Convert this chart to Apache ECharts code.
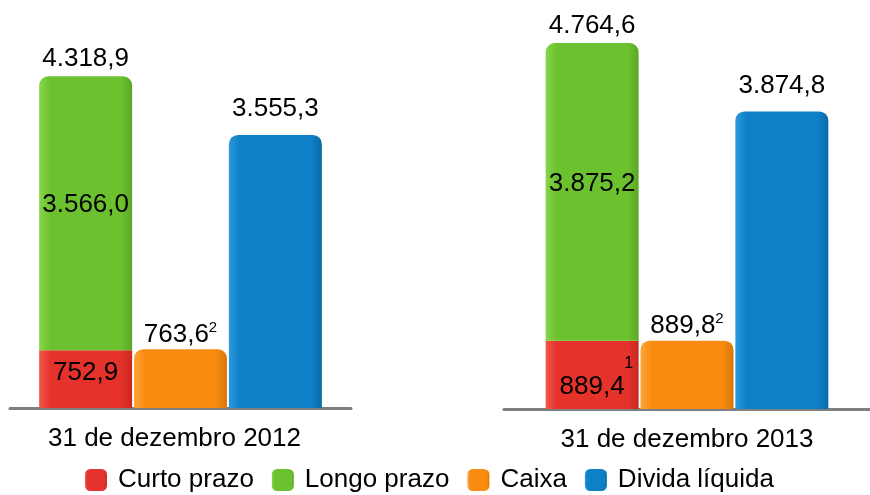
<!DOCTYPE html>
<html>
<head>
<meta charset="utf-8">
<script src="https://cdn.jsdelivr.net/npm/echarts@6/dist/echarts.min.js"></script>
<style>
  html, body { margin: 0; padding: 0; background: #fff; }
  #divChart { width: 870px; height: 495px; }
</style>
</head>
<body>
<div id="divChart"></div>
<script>
// dados (R$ milhões)
var periods = ['31 de dezembro 2012', '31 de dezembro 2013'];
var curtoPrazo = [752.9, 889.4];
var longoPrazo = [3566.0, 3875.2];
var caixa = [763.6, 889.8];
var dividaLiquida = [3555.3, 3874.8];
var curtoNotes = ['', '1'];
var caixaNotes = ['2', '2'];
var legendNames = ['Curto prazo', 'Longo prazo', 'Caixa', 'Divida líquida'];

var colors = {
  curto: ['#f0574e', '#e5322a', '#c82820'],
  longo: ['#86d64a', '#6cc12f', '#5aa826'],
  caixa: ['#ffa53a', '#f98c10', '#d97608'],
  divida: ['#2c98dc', '#0e80c8', '#0a6aa8']
};

var divChart = null;

/**
 * extend simples (sem jQuery)
 */
function extend(a) {
  for (var k = 1; k < arguments.length; k++) {
    var b = arguments[k];
    for (var p in b) { if (b.hasOwnProperty(p)) a[p] = b[p]; }
  }
  return a;
}

/**
 * formata numero no padrão pt-BR, ex: 4318.9 -> 4.318,9
 */
function fmt(v) {
  var parts = v.toFixed(1).split('.');
  return parts[0].replace(/\B(?=(\d{3})+(?!\d))/g, '.') + ',' + parts[1];
}

function grad(c) {
  return new echarts.graphic.LinearGradient(0, 0, 1, 0, [
    { offset: 0, color: c[0] },
    { offset: 0.12, color: c[1] },
    { offset: 0.88, color: c[1] },
    { offset: 1, color: c[2] }
  ]);
}

var fontFamily = 'Liberation Sans, Arial';
var rich = {
  v: { fontSize: 26, lineHeight: 28, fontFamily: fontFamily, color: '#000' },
  s: { fontSize: 15, lineHeight: 14, verticalAlign: 'top', fontFamily: fontFamily, color: '#000' },
  n: { fontSize: 16, lineHeight: 18, width: 82, align: 'right', fontFamily: fontFamily, color: '#000' }
};

/**
 * monta as séries de um painel (gridIndex i)
 */
function makeSeries(i) {
  var base = { type: 'bar', xAxisIndex: i, yAxisIndex: i, barWidth: 93, barGap: '2%' };
  var list = [];
  list.push(extend({}, base, {
    name: 'Curto prazo', stack: 'd' + i,
    data: [curtoPrazo[i]],
    itemStyle: { color: grad(colors.curto) },
    label: {
      show: true, position: 'inside', rich: rich,
      offset: curtoNotes[i] ? [0, 3] : [0, -6],
      formatter: function () {
        return curtoNotes[i] ? '{n|' + curtoNotes[i] + '}\n{v|' + fmt(curtoPrazo[i]) + '}' : '{v|' + fmt(curtoPrazo[i]) + '}';
      }
    }
  }));
  list.push(extend({}, base, {
    name: 'Longo prazo', stack: 'd' + i,
    data: [longoPrazo[i]],
    itemStyle: { color: grad(colors.longo), borderRadius: [9, 9, 0, 0] },
    label: {
      show: true, position: 'inside', offset: [0, -8], rich: rich,
      formatter: function () { return '{v|' + fmt(longoPrazo[i]) + '}'; }
    }
  }));
  list.push(extend({}, base, {
    name: 'Total', stack: 'd' + i,
    data: [0],
    itemStyle: { color: 'transparent' },
    label: {
      show: true, position: 'top', distance: 3, rich: rich,
      formatter: function () { return '{v|' + fmt(curtoPrazo[i] + longoPrazo[i]) + '}'; }
    }
  }));
  list.push(extend({}, base, {
    name: 'Caixa',
    data: [caixa[i]],
    itemStyle: { color: grad(colors.caixa), borderRadius: [9, 9, 0, 0] },
    label: {
      show: true, position: 'top', distance: 1, rich: rich,
      formatter: function () { return '{v|' + fmt(caixa[i]) + '}{s|' + caixaNotes[i] + '}'; }
    }
  }));
  list.push(extend({}, base, {
    name: 'Divida líquida',
    data: [dividaLiquida[i]],
    itemStyle: { color: grad(colors.divida), borderRadius: [9, 9, 0, 0] },
    label: {
      show: true, position: 'top', distance: 12, rich: rich,
      formatter: function () { return '{v|' + fmt(dividaLiquida[i]) + '}'; }
    }
  }));
  return list;
}

function axisX(i) {
  return {
    type: 'category', gridIndex: i, data: [periods[i]],
    axisLine: { show: true, lineStyle: { color: '#7f7f7f', width: 3 } },
    axisTick: { show: false },
    axisLabel: {
      fontSize: 26, color: '#000', margin: 18, fontFamily: fontFamily,
      padding: i === 0 ? [0, 12, 0, 0] : [0, 0, 0, 0]
    }
  };
}
function axisY(i) {
  return { type: 'value', gridIndex: i, min: 0, max: 5000, show: false, splitLine: { show: false } };
}

var option = {
  backgroundColor: '#fff',
  animation: false,
  color: [colors.curto[1], colors.longo[1], colors.caixa[1], colors.divida[1]],
  legend: {
    data: legendNames,
    left: 80, top: 462,
    itemWidth: 22, itemHeight: 22, itemGap: 18,
    icon: 'roundRect',
    textStyle: { fontSize: 26, color: '#000', fontFamily: fontFamily, padding: [0, 0, 0, 6] }
  },
  grid: [
    { left: 10, width: 341, top: 24, height: 384 },
    { left: 504, width: 366, top: 25, height: 384 }
  ],
  xAxis: [axisX(0), axisX(1)],
  yAxis: [axisY(0), axisY(1)],
  series: makeSeries(0).concat(makeSeries(1))
};

divChart = echarts.init(document.getElementById('divChart'));
divChart.setOption(option);
</script>
</body>
</html>
